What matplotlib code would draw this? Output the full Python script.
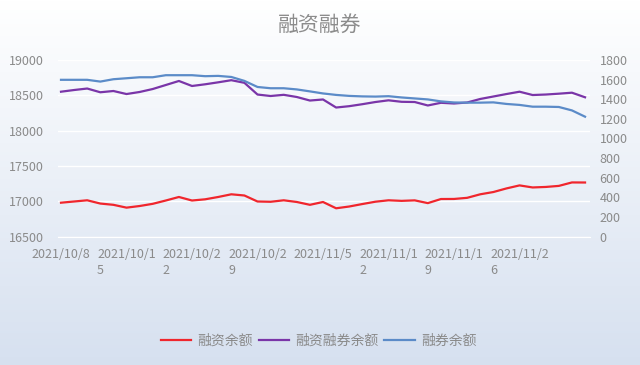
import matplotlib
matplotlib.use('Agg')
import matplotlib.pyplot as plt
import numpy as np

plt.rcParams['font.family'] = ['Noto Sans CJK SC', 'DejaVu Sans']

# ==========================================
# data
# ==========================================
dates = ['2021/10/8', '2021/10/11', '2021/10/12', '2021/10/13', '2021/10/14',
         '2021/10/15', '2021/10/18', '2021/10/19', '2021/10/20', '2021/10/21',
         '2021/10/22', '2021/10/25', '2021/10/26', '2021/10/27', '2021/10/28',
         '2021/10/29', '2021/11/1', '2021/11/2', '2021/11/3', '2021/11/4',
         '2021/11/5', '2021/11/8', '2021/11/9', '2021/11/10', '2021/11/11',
         '2021/11/12', '2021/11/15', '2021/11/16', '2021/11/17', '2021/11/18',
         '2021/11/19', '2021/11/22', '2021/11/23', '2021/11/24', '2021/11/25',
         '2021/11/26', '2021/11/29', '2021/11/30', '2021/12/1', '2021/12/2',
         '2021/12/3']

# 融资余额 (left axis)
rz = [16979, 16996, 17013, 16967, 16949, 16909, 16932, 16963, 17010, 17060,
      17010, 17027, 17060, 17098, 17081, 16996, 16992, 17013, 16989, 16949,
      16989, 16900, 16925, 16960, 16993, 17013, 17005, 17012, 16973, 17031,
      17032, 17048, 17098, 17130, 17181, 17224, 17195, 17202, 17217, 17266,
      17265]

# 融资融券余额 (left axis)
rzrq = [18551, 18575, 18596, 18543, 18561, 18518, 18547, 18589, 18646, 18703,
        18632, 18656, 18684, 18714, 18677, 18511, 18490, 18507, 18476, 18426,
        18441, 18327, 18346, 18374, 18405, 18429, 18408, 18405, 18356, 18394,
        18384, 18398, 18448, 18483, 18518, 18551, 18504, 18511, 18523, 18537,
        18472]

# 融券余额 (right axis)
rq = [1598, 1598, 1598, 1580, 1604, 1614, 1624, 1624, 1645, 1645,
      1645, 1635, 1638, 1627, 1587, 1525, 1512, 1512, 1500, 1480,
      1459, 1444, 1434, 1429, 1427, 1431, 1418, 1408, 1398, 1378,
      1367, 1365, 1365, 1368, 1352, 1342, 1324, 1324, 1321, 1286,
      1222]

# tick labels shown every 5 trading days (wrapped like the original)
tick_idx = [0, 5, 10, 15, 20, 25, 30, 35]
tick_labels = ['2021/10/8', '2021/10/1\n5', '2021/10/2\n2', '2021/10/2\n9',
               '2021/11/5', '2021/11/1\n2', '2021/11/1\n9', '2021/11/2\n6']

x = np.arange(len(dates))

fig = plt.figure(figsize=(6.4, 3.65), dpi=100)

# background gradient (white -> light blue)
bg = fig.add_axes([0, 0, 1, 1], zorder=-1)
grad = np.linspace(0, 1, 256).reshape(-1, 1)
top = np.array([1.0, 1.0, 1.0])
bot = np.array([0.84, 0.88, 0.94])
img = top + (bot - top) * grad[:, :, None]
bg.imshow(img, aspect='auto', extent=[0, 1, 0, 1], origin='upper')
bg.axis('off')

ax1 = fig.add_axes([0.0906, 0.352, 0.8313, 0.4836])
ax1.patch.set_alpha(0)
ax2 = ax1.twinx()

l1, = ax1.plot(x, rz, color='#f0262d', linewidth=1.6, label='融资余额')
l2, = ax1.plot(x, rzrq, color='#7a35a8', linewidth=1.6, label='融资融券余额')
l3, = ax2.plot(x, rq, color='#5b8bc8', linewidth=1.6, label='融券余额')

ax1.set_xlim(-0.23, 40.38)
ax1.set_ylim(16500, 19000)
ax1.set_yticks(np.arange(16500, 19001, 500))
ax2.set_ylim(0, 1800)
ax2.set_yticks(np.arange(0, 1801, 200))

ax1.set_xticks(tick_idx)
ax1.set_xticklabels(tick_labels, linespacing=1.35)
for lab in ax1.get_xticklabels():
    lab.set_multialignment('left')

ax1.yaxis.grid(True, color='white', linewidth=1.0)
ax1.set_axisbelow(True)

grey = '#8a8a8a'
ax1.tick_params(axis='x', colors='white', labelcolor=grey, length=0, pad=8, labelsize=9)
ax1.tick_params(axis='y', length=0, pad=10, labelcolor=grey, labelsize=9)
ax2.tick_params(axis='y', length=0, pad=7, labelcolor=grey, labelsize=9)

for a in (ax1, ax2):
    for s in a.spines.values():
        s.set_visible(False)
ax1.spines['bottom'].set_visible(True)
ax1.spines['bottom'].set_color('white')

fig.text(0.5, 0.932, '融资融券', ha='center', va='center', fontsize=15, color='#8c8c8c')

fig.legend(handles=[l1, l2, l3], loc='center', bbox_to_anchor=(0.498, 0.066),
           ncol=3, frameon=False, fontsize=10, labelcolor=grey,
           handlelength=2.2, handletextpad=0.45, columnspacing=0.4)

plt.savefig('out.png', dpi=100)
